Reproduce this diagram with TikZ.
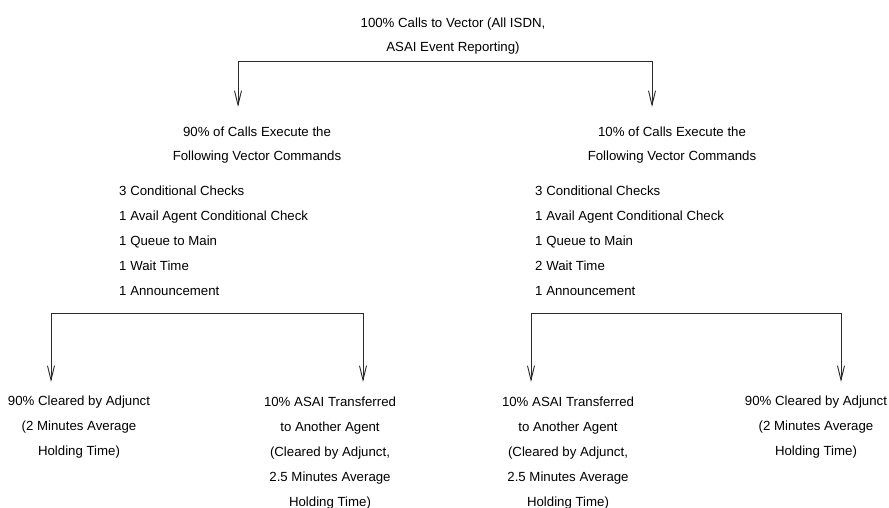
\documentclass[tikz,border=0pt]{standalone}
\usepackage{fontspec}
\setmainfont{Liberation Sans}
\usepackage{tikz}
\usetikzlibrary{arrows.meta, positioning, calc}
\definecolor{inkline}{HTML}{2B2B2B}

\begin{document}
\begin{tikzpicture}[x=0.03cm, y=-0.03cm,
    txt/.style={inner sep=0pt, align=center, anchor=base,
                font=\fontsize{11.3pt}{21.3pt}\selectfont},
    lst/.style={txt, align=left, anchor=base west},
    flow/.style={draw=inkline, line width=0.8pt, line join=miter,
                 -{Straight Barb[length=4.3mm, width=2.1mm]}}]
  \useasboundingbox (0,0) rectangle (889,508);

  % top level (anchored at the last baseline)
  \node[txt] (all) at (453,52) {100\% Calls to Vector (All ISDN,\\ASAI Event Reporting)};

  % the two call groups
  \node[txt] (grpL) at (257,161) {90\% of Calls Execute the\\Following Vector Commands};
  \node[txt] (grpR) at (672,161) {10\% of Calls Execute the\\Following Vector Commands};

  \node[lst] (cmdL) at (119,295) {3 Conditional Checks\\1 Avail Agent Conditional Check\\1 Queue to Main\\1 Wait Time\\1 Announcement};
  \node[lst] (cmdR) at (535,295) {3 Conditional Checks\\1 Avail Agent Conditional Check\\1 Queue to Main\\2 Wait Time\\1 Announcement};

  % outcomes
  \node[txt] (clrL) at (79,455) {90\% Cleared by Adjunct\\(2 Minutes Average\\Holding Time)};
  \node[txt] (xfrL) at (330,506) {10\% ASAI Transferred\\to Another Agent\\(Cleared by Adjunct,\\2.5 Minutes Average\\Holding Time)};
  \node[txt] (xfrR) at (568,506) {10\% ASAI Transferred\\to Another Agent\\(Cleared by Adjunct,\\2.5 Minutes Average\\Holding Time)};
  \node[txt] (clrR) at (816,455) {90\% Cleared by Adjunct\\(2 Minutes Average\\Holding Time)};

  % split bars and arrow tips
  \coordinate (barT) at (445,61);
  \coordinate (barL) at (206,313);
  \coordinate (barR) at (686,313);
  \coordinate (tipA) at (238,107);
  \coordinate (tipB) at (652,107);
  \coordinate (tipC) at (51,382);
  \coordinate (tipD) at (363,382);
  \coordinate (tipE) at (531,382);
  \coordinate (tipF) at (841,382);

  \draw[flow] (barT) -| (tipA);
  \draw[flow] (barT) -| (tipB);
  \draw[flow] (barL) -| (tipC);
  \draw[flow] (barL) -| (tipD);
  \draw[flow] (barR) -| (tipE);
  \draw[flow] (barR) -| (tipF);
\end{tikzpicture}
\end{document}
